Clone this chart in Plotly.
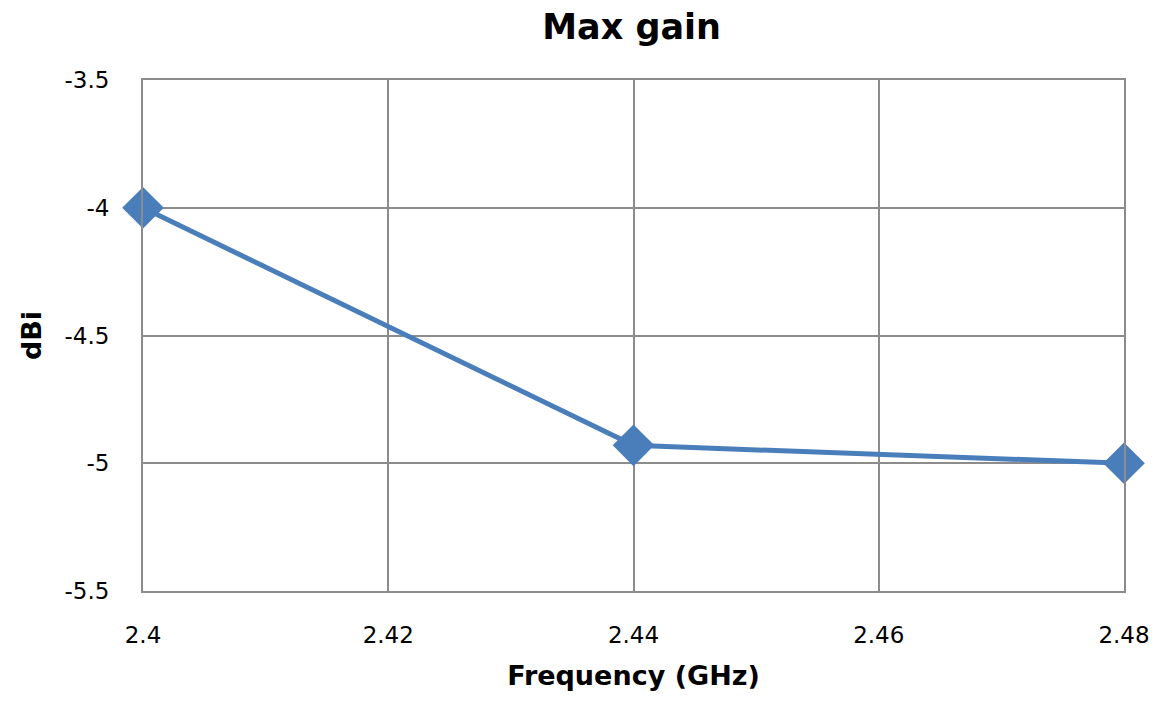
import plotly.graph_objects as go

freq = [2.40, 2.44, 2.48]
gain = [-4.0, -4.93, -5.0]
x_ticks = [2.40, 2.42, 2.44, 2.46, 2.48]
x_labels = ["2.4", "2.42", "2.44", "2.46", "2.48"]
y_ticks = [-5.5, -5.0, -4.5, -4.0, -3.5]
y_labels = ["-5.5", "-5", "-4.5", "-4", "-3.5"]

fig = go.Figure()
fig.add_trace(go.Scatter(
    x=freq, y=gain, mode="lines+markers",
    line=dict(color="#4a7ebb", width=5),
    marker=dict(symbol="diamond", size=32, color="#4a7ebb"),
    cliponaxis=False, showlegend=False,
))

grid = "#8c8c8c"
fig.update_layout(
    width=1157, height=707,
    margin=dict(l=135, r=41, t=72, b=124),
    paper_bgcolor="white", plot_bgcolor="white",
    font=dict(family="DejaVu Sans, sans-serif", color="#000000"),
    title=dict(text="<b>Max gain</b>", x=0.539, xanchor="center",
               yref="container", y=0.974, yanchor="middle",
               font=dict(size=35)),
    xaxis=dict(range=[2.40, 2.48], tickvals=x_ticks, ticktext=x_labels,
               showgrid=True, gridcolor=grid, gridwidth=2,
               showline=True, linecolor=grid, linewidth=2, mirror=True,
               ticks="", tickfont=dict(size=23), ticklabelstandoff=22,
               title=dict(text="<b>Frequency (GHz)</b>", font=dict(size=27), standoff=20),
               zeroline=False),
    yaxis=dict(range=[-5.5, -3.5], tickvals=y_ticks, ticktext=y_labels,
               showgrid=True, gridcolor=grid, gridwidth=2,
               showline=True, linecolor=grid, linewidth=2, mirror=True,
               ticks="", tickfont=dict(size=23), ticklabelstandoff=27,
               title=dict(text="<b>dBi</b>", font=dict(size=27), standoff=15),
               zeroline=False),
)
fig.write_html("out.html")
